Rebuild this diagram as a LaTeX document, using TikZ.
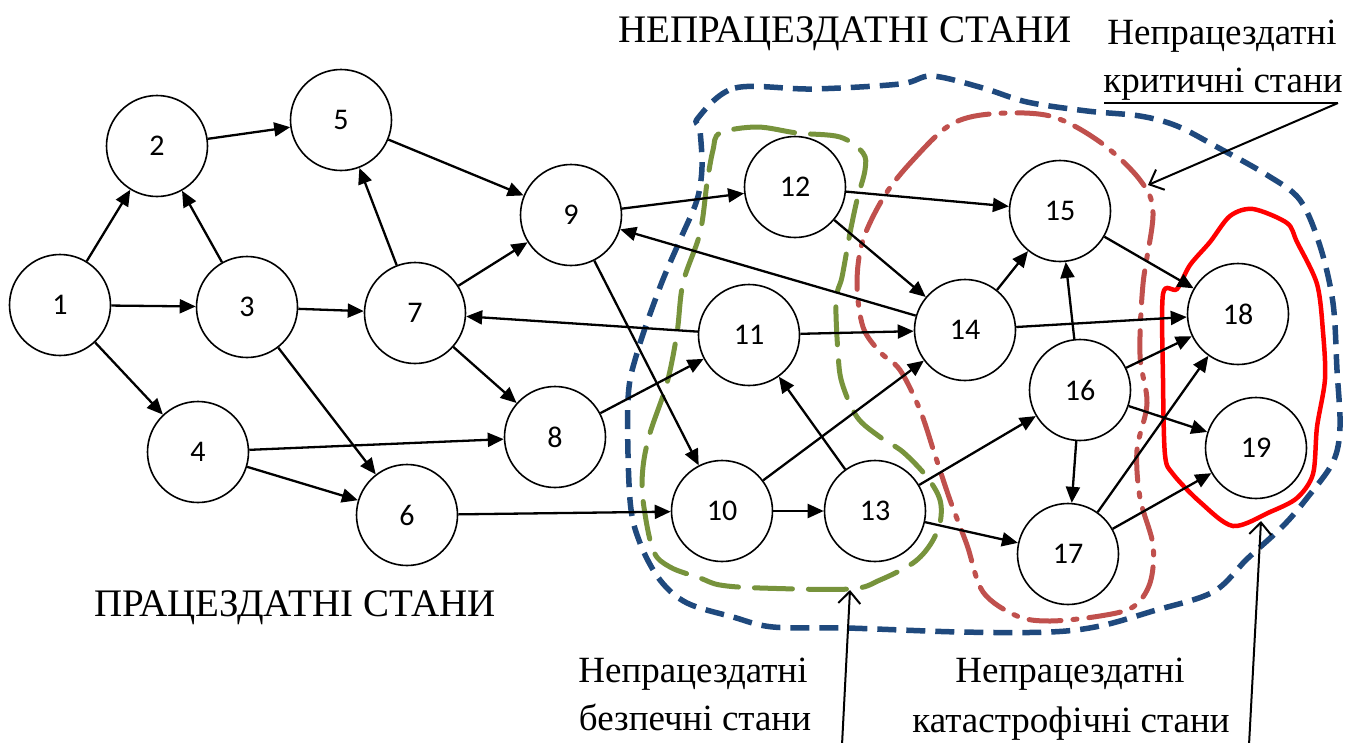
\documentclass[tikz,border=0pt]{standalone}
\usepackage{fontspec}
\setmainfont{Liberation Serif}
\newfontfamily\numfont{Carlito}
\usetikzlibrary{arrows.meta}
\definecolor{bluedash}{RGB}{31,73,125}
\definecolor{greendash}{RGB}{119,147,60}
\definecolor{reddash}{RGB}{192,80,77}
\begin{document}
\begin{tikzpicture}[x=1pt,y=-1pt,
  st/.style={circle, draw, line width=1.6pt, minimum size=101pt, inner sep=0pt, fill=white, font=\numfont\fontsize{30}{32}\selectfont},
  ed/.style={line width=2.3pt, -{Triangle[length=16pt,width=14pt]}},
  lbl/.style={font=\fontsize{37}{40}\selectfont, inner sep=0pt, anchor=base},
  biglbl/.style={font=\fontsize{39}{42}\selectfont, inner sep=0pt, anchor=base},
  ptr/.style={line width=2pt, -{Straight Barb[length=12pt,width=22pt]}},
  reg/.style={line width=5pt, line cap=round}]
\useasboundingbox (0,0) rectangle (1360,742);

% region outlines
\draw[reg, bluedash, dash pattern=on 19pt off 10pt, line width=5.5pt, line cap=butt] plot[smooth cycle, tension=0.55] coordinates {
 (698,118) (735,88) (813,89) (900,84) (932,76) (983,88) (1027,102) (1087,111) (1140,116) (1177,126) (1217,147) (1267,175) (1300,200) (1320,246) (1333,303) (1337,370) (1340,427) (1333,462) (1307,498) (1283,526) (1247,559) (1213,592) (1153,611) (1100,626) (1050,632) (960,632) (847,628) (773,627) (733,617) (687,603) (660,580) (640,543) (630,500) (628,400) (637,353) (660,287) (680,240) (697,200) (702,167) (700,130)};
\draw[reg, greendash, dash pattern=on 38pt off 16pt] plot[smooth cycle, tension=0.55] coordinates {
 (720,133) (757,127) (797,133) (840,137) (863,153) (865,170) (857,200) (850,233) (842,277) (836,300) (838,353) (842,383) (857,417) (880,437) (903,452) (927,477) (940,500) (940,523) (930,545) (913,563) (880,580) (850,589) (760,588) (720,585) (700,578) (670,567) (653,550) (643,500) (643,467) (650,433) (667,383) (677,333) (683,283) (700,233) (707,183) (713,150)};
\draw[reg, reddash, dash pattern=on 32pt off 12pt on 4pt off 12pt] plot[smooth cycle, tension=0.55] coordinates {
 (885,195) (913,160) (950,125) (990,114) (1050,116) (1100,142) (1140,180) (1153,213) (1143,284) (1140,355) (1147,403) (1137,450) (1140,498) (1153,545) (1150,583) (1133,607) (1100,616) (1050,621) (1017,616) (983,592) (967,545) (950,500) (935,455) (920,410) (900,370) (880,352) (863,327) (857,283) (863,240)};
\draw[reg, red, line width=4.5pt] plot[smooth cycle, tension=0.5] coordinates {
 (1230,216) (1253,209) (1287,223) (1297,242) (1317,284) (1323,332) (1325,379) (1317,427) (1313,474) (1297,498) (1270,512) (1233,526) (1200,502) (1173,474) (1165,455) (1163,379) (1163,294) (1177,289) (1190,265) (1210,242)};

% states
\node[st] (n1) at (60,305) {1};
\node[st] (n2) at (157,146) {2};
\node[st] (n3) at (247,307) {3};
\node[st] (n4) at (198,452) {4};
\node[st] (n5) at (341,120) {5};
\node[st] (n6) at (407,515) {6};
\node[st] (n7) at (415,313) {7};
\node[st] (n8) at (555,437) {8};
\node[st] (n9) at (571,215) {9};
\node[st] (n10) at (722,511) {10};
\node[st] (n11) at (749,335) {11};
\node[st] (n12) at (795,187) {12};
\node[st] (n13) at (875,511) {13};
\node[st] (n14) at (965,330) {14};
\node[st] (n15) at (1060,211) {15};
\node[st] (n16) at (1080,390) {16};
\node[st] (n17) at (1068,554) {17};
\node[st] (n18) at (1238,314) {18};
\node[st] (n19) at (1256,448) {19};

% transitions
\foreach \a/\b in {1/2,1/3,1/4,3/2,2/5,3/7,3/6,7/5,5/9,7/9,7/8,4/8,4/6,6/10,9/12,9/10,14/9,11/7,8/11,11/14,12/15,12/14,10/14,10/13,13/11,13/16,13/17,14/15,14/18,16/15,16/18,16/17,16/19,15/18,17/18,17/19}
  \draw[ed] (n\a) -- (n\b);

% labels
\node[biglbl] (tUnop) at (845,42) {НЕПРАЦЕЗДАТНІ СТАНИ};
\node[biglbl] (tOp) at (295,616) {ПРАЦЕЗДАТНІ СТАНИ};
\node[lbl] (tCrit1) at (1222,44) {Непрацездатні};
\node[lbl] (tCrit2) at (1223,92) {критичні стани};
\node[lbl] (tSafe1) at (693,682) {Непрацездатні};
\node[lbl] (tSafe2) at (695,730) {безпечні стани};
\node[lbl] (tCat1) at (1070,682) {Непрацездатні};
\node[lbl] (tCat2) at (1071,732) {катастрофічні стани};

\coordinate (ulA) at (1104,103);
\coordinate (ulB) at (1338,103);
\draw[line width=1.6pt] (ulA) -- (ulB);
\coordinate (critTip) at (1148,185);
\draw[ptr] (ulB) -- (critTip);
\coordinate (safeFoot) at (842,745);
\coordinate (safeTip) at (850,590);
\draw[ptr] (safeFoot) -- (safeTip);
\coordinate (catFoot) at (1249,745);
\coordinate (catTip) at (1261,521);
\draw[ptr] (catFoot) -- (catTip);
\end{tikzpicture}
\end{document}
